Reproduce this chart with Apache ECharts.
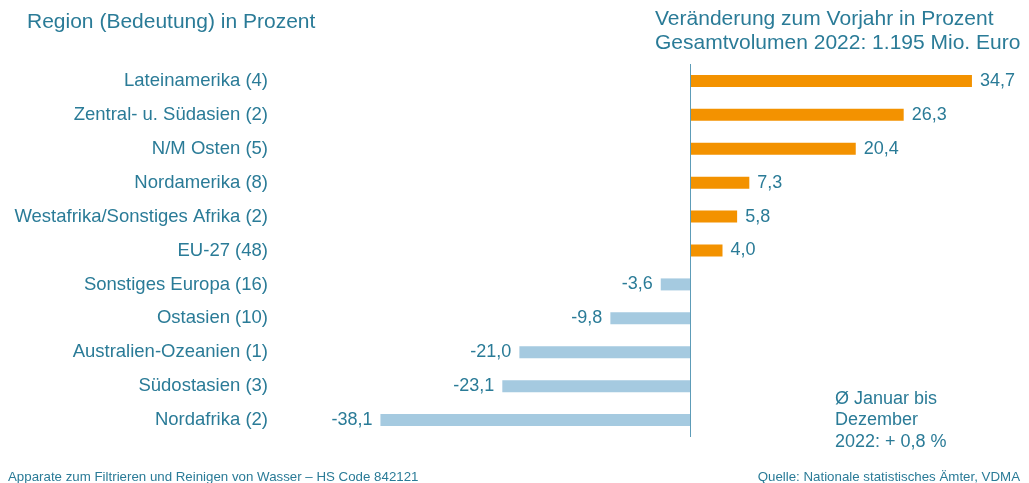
<!DOCTYPE html>
<html>
<head>
<meta charset="utf-8">
<script src="https://cdn.jsdelivr.net/npm/echarts@6/dist/echarts.min.js"></script>
<style>
  html, body { margin: 0; padding: 0; background: #fff; }
  #chart { width: 1029px; height: 483px; }
</style>
</head>
<body>
<div id="chart"></div>
<script>
var regionen = [
  'Lateinamerika (4)',
  'Zentral- u. Südasien (2)',
  'N/M Osten (5)',
  'Nordamerika (8)',
  'Westafrika/Sonstiges Afrika (2)',
  'EU-27 (48)',
  'Sonstiges Europa (16)',
  'Ostasien (10)',
  'Australien-Ozeanien (1)',
  'Südostasien (3)',
  'Nordafrika (2)'
]
var veraenderung = [34.7, 26.3, 20.4, 7.3, 5.8, 4.0, -3.6, -9.8, -21.0, -23.1, -38.1]

var textFarbe = '#2a7b97'
var font = '"Liberation Sans", Arial, sans-serif'

var myChart = echarts.init(document.getElementById('chart'))

var balken = veraenderung.map(function (v) {
  return {
    value: v,
    itemStyle: { color: v >= 0 ? '#f39200' : '#a5cae0' },
    label: { position: v >= 0 ? 'right' : 'left' }
  }
})

var option = {
  animation: false,
  textStyle: { fontFamily: font },
  title: [
    {
      text: 'Region (Bedeutung) in Prozent',
      left: 22, top: 7,
      textStyle: { color: textFarbe, fontSize: 21, fontWeight: 'normal', fontFamily: font }
    },
    {
      text: 'Veränderung zum Vorjahr in Prozent\nGesamtvolumen 2022: 1.195 Mio. Euro',
      left: 650, top: 2,
      textStyle: { color: textFarbe, fontSize: 21, fontWeight: 'normal', lineHeight: 24, fontFamily: font }
    },
    {
      text: 'Ø Januar bis\nDezember\n2022: + 0,8 %',
      left: 830, top: 383,
      textStyle: { color: textFarbe, fontSize: 18, fontWeight: 'normal', lineHeight: 21.5, fontFamily: font }
    },
    {
      text: 'Apparate zum Filtrieren und Reinigen von Wasser – HS Code 842121',
      left: 3, top: 466,
      textStyle: { color: textFarbe, fontSize: 13.3, fontWeight: 'normal', fontFamily: font }
    },
    {
      text: 'Quelle: Nationale statistisches Ämter, VDMA',
      right: 4, top: 466,
      textStyle: { color: textFarbe, fontSize: 13.3, fontWeight: 'normal', fontFamily: font }
    }
  ],
  grid: {
    left: 365,
    right: 14,
    top: 64,
    bottom: 46
  },
  xAxis: {
    type: 'value',
    min: -40,
    max: 40,
    show: false
  },
  yAxis: {
    type: 'category',
    inverse: true,
    data: regionen,
    axisLine: { show: false },
    axisTick: { show: false },
    splitLine: { show: false },
    axisLabel: {
      margin: 97,
      color: textFarbe,
      fontSize: 18.5,
      fontFamily: font
    }
  },
  series: [{
    type: 'bar',
    data: balken,
    barWidth: 12,
    label: {
      show: true,
      distance: 8,
      color: textFarbe,
      fontSize: 18,
      fontFamily: font,
      formatter: function (p) {
        return p.value.toFixed(1).replace('.', ',')
      }
    },
    markLine: {
      silent: true,
      symbol: 'none',
      label: { show: false },
      lineStyle: { color: '#5d9cb8', width: 1, type: 'solid' },
      data: [{ xAxis: 0 }]
    }
  }]
}

myChart.setOption(option)
</script>
</body>
</html>
